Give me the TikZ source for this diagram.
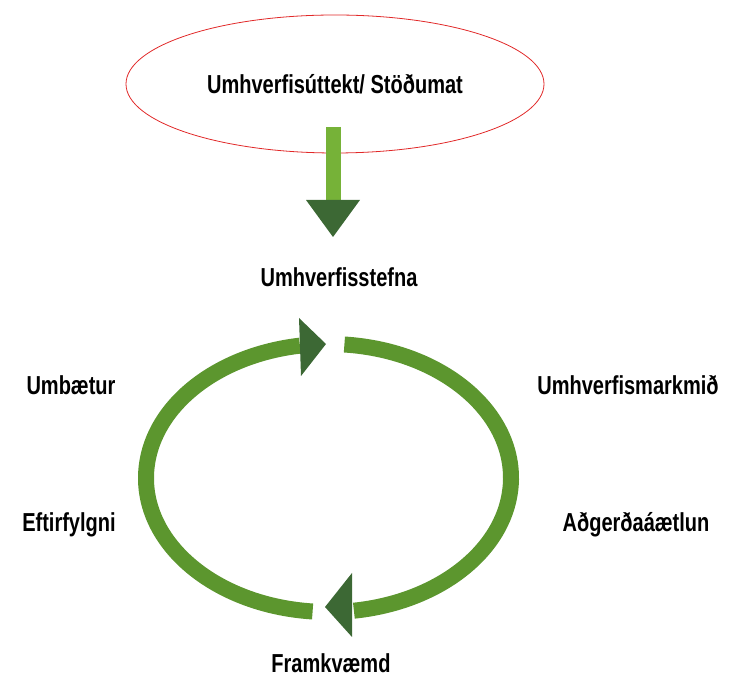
\documentclass[tikz,border=0pt]{standalone}
\usepackage{fontspec}
\setmainfont{Liberation Sans}[FakeStretch=0.77]
\usepackage{xcolor}
\usepackage{tikz}
\usetikzlibrary{shapes.geometric}

\definecolor{ringgreen}{RGB}{92,150,46}
\definecolor{headgreen}{RGB}{60,104,52}
\definecolor{shaftgreen}{RGB}{118,178,56}
\definecolor{ovalred}{RGB}{225,40,40}
\tikzset{lbl/.style={font=\fontsize{26}{30}\selectfont\bfseries,inner sep=0pt}}

\begin{document}
\begin{tikzpicture}[x=1pt,y=1pt]
\useasboundingbox (0,0) rectangle (729,677);
	\node[ellipse,draw=ovalred,thick,minimum width=418pt,minimum height=138pt,lbl] (audit) at (335,593) {Umhverfisúttekt/ Stöðumat};
	\node[lbl] (policy) at (339,400) {Umhverfisstefna};
	\node[lbl] (improve) at (71,292) {Umbætur};
	\node[lbl] (targets) at (628,292) {Umhverfismarkmið};
	\node[lbl] (followup) at (69,152) {Eftirfylgni};
	\node[lbl] (plan) at (636,152) {Aðgerðaáætlun};
	\node[lbl] (doit) at (331,14) {Framkvæmd};

	\coordinate (stemtop) at (333,550);
	\coordinate (stemend) at (333,477);
	\coordinate (stemtip) at (333,440);
	\coordinate (ring) at (328.5,199);

\draw[shaftgreen,line width=15pt] (stemtop) -- (stemend);
\fill[headgreen] (306,477) -- (360,477) -- (stemtip) -- cycle;

\draw[ringgreen,line width=16pt] (ring) ++(265:182.5 and 134) arc[start angle=265,end angle=99,x radius=182.5,y radius=134];
\fill[headgreen] (299,359) -- (301,301) -- (326,333) -- cycle;

\draw[ringgreen,line width=16pt] (ring) ++(85:182.5 and 134) arc[start angle=85,end angle=-82,x radius=182.5,y radius=134];
\fill[headgreen] (352,104) -- (352,40) -- (325,70) -- cycle;
\end{tikzpicture}
\end{document}
